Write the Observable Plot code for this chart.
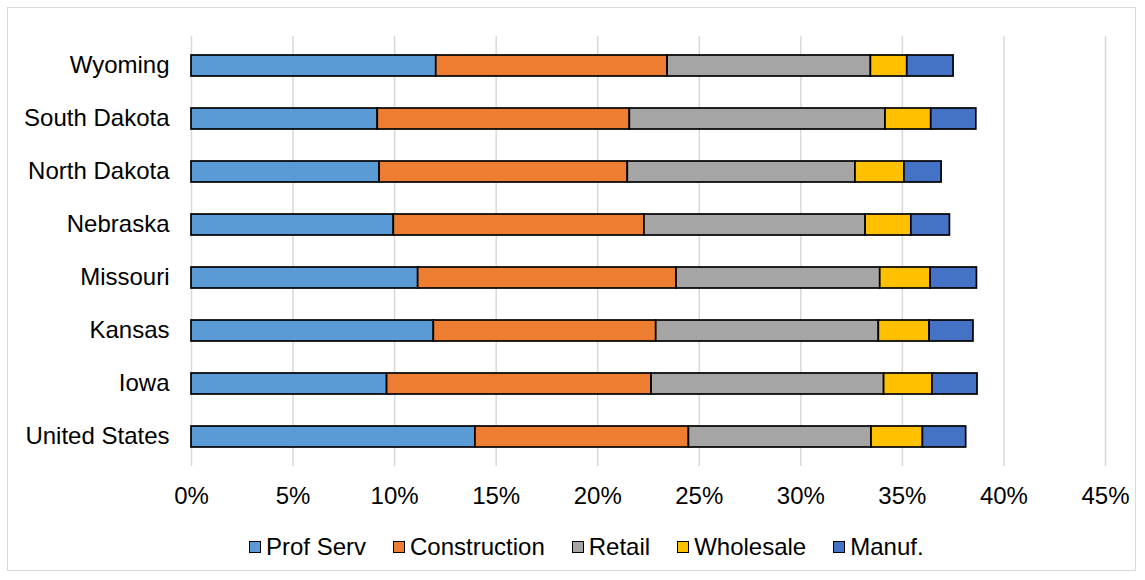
<!DOCTYPE html>
<html>
<head>
<meta charset="utf-8">
<script src="https://cdn.jsdelivr.net/npm/d3@7"></script>
<script src="https://cdn.jsdelivr.net/npm/@observablehq/plot@0.6"></script>
<style>
  html, body { margin: 0; padding: 0; background: #fff; }
  #wrap { position: relative; width: 1145px; height: 580px; overflow: hidden; font-family: "Liberation Sans", Arial, sans-serif; }
  #frame { position: absolute; left: 7px; top: 7px; width: 1129px; height: 564px; border: 1px solid #d9d9d9; box-sizing: border-box; }
  #chart { position: absolute; left: 0; top: 0; }
  #legend { position: absolute; left: 249px; top: 533px; display: flex; align-items: center; font-size: 24px; color: #000; white-space: nowrap; }
  .item { display: flex; align-items: center; margin-right: 27px; }
  .sw { width: 10px; height: 10px; border: 1.5px solid #000; margin-right: 5px; }
</style>
</head>
<body>
<div id="wrap">
  <div id="frame"></div>
  <div id="chart"></div>
  <div id="legend"></div>
</div>
<script>
const states = ["Wyoming", "South Dakota", "North Dakota", "Nebraska", "Missouri", "Kansas", "Iowa", "United States"];
const seriesNames = ["Prof Serv", "Construction", "Retail", "Wholesale", "Manuf."];
const seriesColors = ["#5B9BD5", "#ED7D31", "#A5A5A5", "#FFC000", "#4472C4"];
const profServ     = [12.05, 9.17, 9.26, 9.96, 11.16, 11.93, 9.63, 13.98];
const construction = [11.39, 12.41, 12.22, 12.34, 12.72, 10.95, 13.02, 10.51];
const retail       = [10.01, 12.59, 11.21, 10.89, 10.03, 10.96, 11.45, 8.99];
const wholesale    = [1.79, 2.25, 2.41, 2.25, 2.48, 2.50, 2.38, 2.53];
const manuf        = [2.28, 2.22, 1.83, 1.90, 2.28, 2.16, 2.22, 2.13];
const xTicks = [0, 5, 10, 15, 20, 25, 30, 35, 40, 45];

const seriesValues = [profServ, construction, retail, wholesale, manuf];
const data = [];
seriesNames.forEach((s, i) => {
  states.forEach((st, j) => data.push({state: st, series: s, value: seriesValues[i][j]}));
});

const chart = Plot.plot({
  width: 1145,
  height: 520,
  marginTop: 36,
  marginBottom: 54,
  marginLeft: 191,
  marginRight: 40,
  style: {fontFamily: '"Liberation Sans", Arial, sans-serif', fontSize: "24px", color: "#000", background: "transparent"},
  x: {domain: [0, 45], ticks: xTicks, tickFormat: d => d + "%", label: null},
  y: {domain: states, paddingInner: 0.61, paddingOuter: 0.305, label: null},
  color: {domain: seriesNames, range: seriesColors},
  marks: [
    Plot.gridX(xTicks, {stroke: "#d9d9d9", strokeOpacity: 1, strokeWidth: 1.5}),
    Plot.barX(data, Plot.stackX({
      x: "value", y: "state", fill: "series", order: seriesNames,
      stroke: "#000", strokeWidth: 1.7, inset: 0
    })),
    Plot.axisX(xTicks, {tickSize: 0, tickPadding: 20, tickFormat: d => d + "%", fill: "#000", label: null}),
    Plot.axisY({tickSize: 0, tickPadding: 22, fill: "#000", label: null, dy: -1})
  ]
});
document.getElementById("chart").appendChild(chart);

const legend = document.getElementById("legend");
seriesNames.forEach((s, i) => {
  const it = document.createElement("div");
  it.className = "item";
  const sw = document.createElement("div");
  sw.className = "sw";
  sw.style.background = seriesColors[i];
  const t = document.createElement("span");
  t.textContent = s;
  it.appendChild(sw);
  it.appendChild(t);
  legend.appendChild(it);
});
</script>
</body>
</html>
